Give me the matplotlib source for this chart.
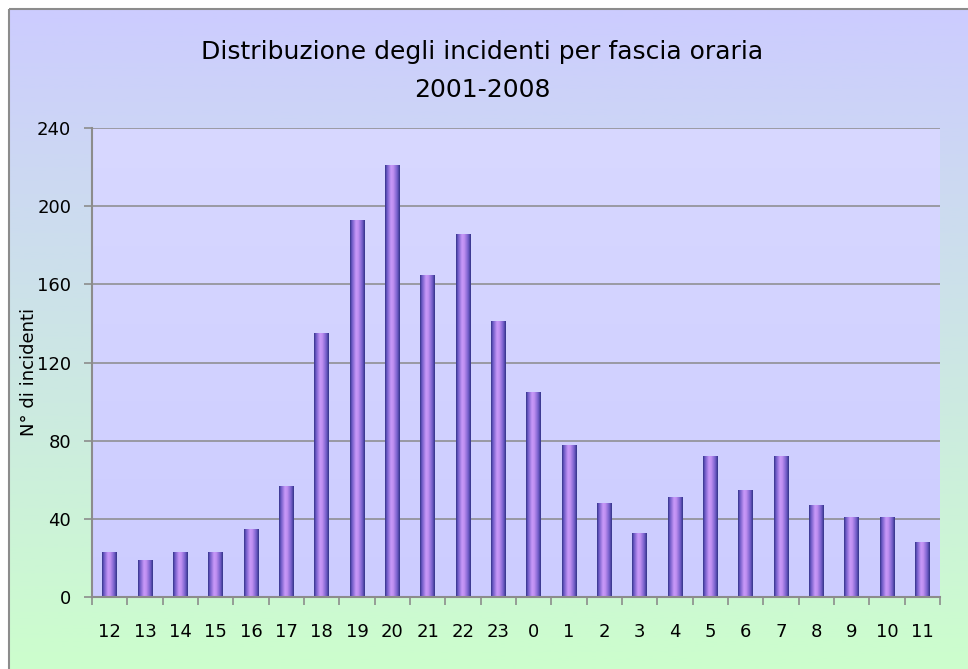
import numpy as np
import matplotlib
matplotlib.use("Agg")
import matplotlib.pyplot as plt
from matplotlib.colors import LinearSegmentedColormap, to_rgb
from matplotlib.patches import Rectangle

# hour bands and incident counts
hours = ['12', '13', '14', '15', '16', '17', '18', '19', '20', '21', '22', '23',
         '0', '1', '2', '3', '4', '5', '6', '7', '8', '9', '10', '11']
incidents = [23, 19, 23, 23, 35, 57, 135, 193, 221, 165, 186, 141,
             105, 78, 48, 33, 51, 72, 55, 72, 47, 41, 41, 28]
y_ticks = [0, 40, 80, 120, 160, 200, 240]

title_1 = 'Distribuzione degli incidenti per fascia oraria'
title_2 = '2001-2008'
y_label = 'N° di incidenti'

W, H = 968, 669
fig = plt.figure(figsize=(W / 100, H / 100), dpi=100)
fig.patch.set_facecolor('white')

# outer chart area with blue -> green gradient
bg = fig.add_axes([0, 0, 1, 1])
bg.set_xlim(0, W)
bg.set_ylim(H, 0)
bg.axis('off')
top_c = np.array(to_rgb('#ccccff'))
bot_c = np.array(to_rgb('#ccffcc'))
t = np.linspace(0, 1, 256)[:, None]
grad = (top_c[None, :] * (1 - t) + bot_c[None, :] * t)[:, None, :]
bg.imshow(grad, extent=(9, W + 10, H + 10, 9), aspect='auto', zorder=0)
bg.add_patch(Rectangle((9, 9), W + 20, H + 20, fill=False, edgecolor='#8c8c8c', lw=1.5, zorder=1))
bg.text(482, 52, title_1, ha='center', va='center', fontsize=18, color='black')
bg.text(482, 90, title_2, ha='center', va='center', fontsize=18, color='black')
bg.text(29, 372, y_label, ha='center', va='center', rotation=90, fontsize=13)

# plot area
left, right, top, bottom = 92, 940, 128, 597
ax = fig.add_axes([left / W, (H - bottom) / H, (right - left) / W, (bottom - top) / H])
x = np.arange(len(hours))

pa_top = np.array(to_rgb('#d8d8ff'))
pa_bot = np.array(to_rgb('#ccccff'))
pgrad = (pa_top[None, :] * (1 - t) + pa_bot[None, :] * t)[:, None, :]
ax.imshow(pgrad, extent=(-0.5, len(hours) - 0.5, 0, 240), aspect='auto', zorder=0)

for yt in y_ticks[1:]:
    ax.axhline(yt, color='#8a8a8a', lw=1.1, zorder=1)

bar_cmap = LinearSegmentedColormap.from_list('bar', [
    (0.0, '#34348a'), (0.12, '#6a58c4'), (0.4, '#c898f8'),
    (0.55, '#c090f2'), (0.82, '#7660cc'), (1.0, '#34348a')])
bars = ax.bar(x, incidents, width=0.42, color='none', edgecolor='none', zorder=2)
hgrad = np.linspace(0, 1, 64)[None, :]
for b in bars:
    x0, y0 = b.get_x(), b.get_y()
    im = ax.imshow(hgrad, cmap=bar_cmap, extent=(x0, x0 + b.get_width(), y0, y0 + b.get_height()),
                   aspect='auto', zorder=3)
    im.set_clip_path(b)

ax.set_xlim(-0.5, len(hours) - 0.5)
ax.set_ylim(0, 240)

for s in ['top', 'right']:
    ax.spines[s].set_visible(False)
for s in ['left', 'bottom']:
    ax.spines[s].set_color('#8c8c8c')
    ax.spines[s].set_linewidth(1.5)
    ax.spines[s].set_zorder(4)

ax.set_yticks(y_ticks)
ax.set_yticklabels([str(v) for v in y_ticks])
ax.set_xticks(x)
ax.set_xticklabels(hours)
ax.set_xticks(np.arange(-0.5, len(hours)), minor=True)
ax.tick_params(axis='x', which='major', length=0, pad=19, labelsize=13)
ax.tick_params(axis='x', which='minor', length=6, color='#8c8c8c', width=1.2)
ax.tick_params(axis='y', length=6, color='#8c8c8c', width=1.2, pad=9, labelsize=13)

fig.savefig('out.png', dpi=100)
